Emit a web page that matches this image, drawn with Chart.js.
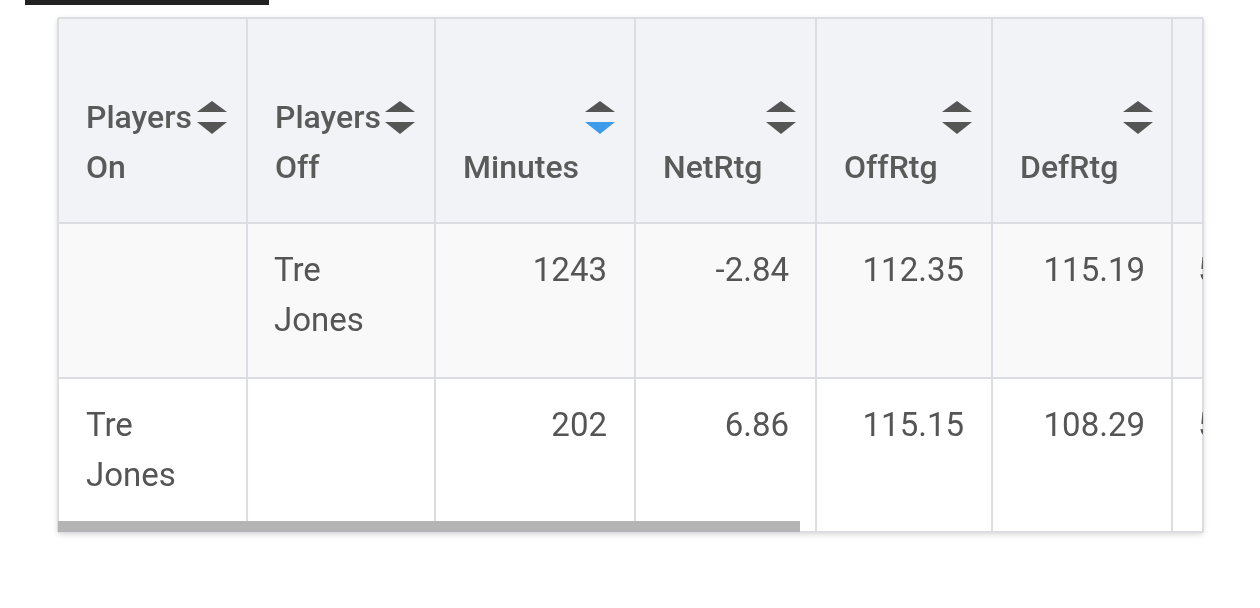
<!DOCTYPE html>
<html><head><meta charset="utf-8">
<script src="https://cdn.jsdelivr.net/npm/chart.js@4/dist/chart.umd.min.js"></script>
<style>html,body{margin:0;padding:0;background:#fff;}#w{width:1260px;height:608px;}</style>
</head><body><div id="w"><canvas id="c"></canvas></div>
<script>
const headers = [["Players","On"],["Players","Off"],["","Minutes"],["","NetRtg"],["","OffRtg"],["","DefRtg"],["",""]];
const playersOn = ["", "Tre\nJones"];
const playersOff = ["Tre\nJones", ""];
const minutes = [1243, 202];
const netRtg = ["-2.84", "6.86"];
const offRtg = ["112.35", "115.15"];
const defRtg = ["115.19", "108.29"];
const lastCol = ["5", "5"];

const colEdges = [58,247,435,635,816,992,1172,1203];
const rowEdges = [18,223,378,532];
const rowBg = ["#f2f3f7","#f9f9f9","#ffffff"];

function tri(ctx,x,y,up,color){ctx.fillStyle=color;ctx.beginPath();
 if(up){ctx.moveTo(x-15,y+11);ctx.lineTo(x+15,y+11);ctx.lineTo(x,y);}
 else{ctx.moveTo(x-15,y);ctx.lineTo(x+15,y);ctx.lineTo(x,y+12);}ctx.fill();}

const tablePlugin={id:'tbl',afterDraw(chart){
 const ctx=chart.ctx,X=v=>chart.scales.x.getPixelForValue(v),Y=v=>chart.scales.y.getPixelForValue(v);
 ctx.save();
 ctx.fillStyle="#222";ctx.fillRect(X(25),Y(0),X(269)-X(25),5);
 ctx.shadowColor="rgba(0,0,0,0.18)";ctx.shadowBlur=6;ctx.shadowOffsetY=2;
 ctx.fillStyle="#fff";ctx.fillRect(X(58),Y(18),X(1203)-X(58),Y(532)-Y(18));
 ctx.shadowColor="transparent";
 for(let r=0;r<3;r++){ctx.fillStyle=rowBg[r];ctx.fillRect(X(58),Y(rowEdges[r]),X(1203)-X(58),Y(rowEdges[r+1])-Y(rowEdges[r]));}
 ctx.strokeStyle="#dcdde2";ctx.lineWidth=2;
 colEdges.forEach(c=>{ctx.beginPath();ctx.moveTo(X(c),Y(18));ctx.lineTo(X(c),Y(532));ctx.stroke();});
 rowEdges.forEach(r=>{ctx.beginPath();ctx.moveTo(X(58),Y(r));ctx.lineTo(X(1203),Y(r));ctx.stroke();});
 ctx.fillStyle="#b4b4b4";ctx.fillRect(X(58),Y(521),X(800)-X(58),11);
 ctx.textBaseline="middle";
 const iconX=[212,400,600,781,957,1138];
 headers.forEach((h,i)=>{if(i>5)return;const x=colEdges[i]+28;
  ctx.textAlign="left";ctx.font="500 32px Roboto";ctx.fillStyle="#5a5a5a";
  if(h[0])ctx.fillText(h[0],X(x),Y(120));
  ctx.fillText(h[1],X(x),Y(170));
  tri(ctx,X(iconX[i]),Y(101),true,"#555");
  tri(ctx,X(iconX[i]),Y(122),false,i===2?"#3d9be9":"#555");
 });
 ctx.font="33px Roboto";ctx.fillStyle="#555";
 const rowY=[273,428];
 for(let r=0;r<2;r++){const y=rowY[r];
  ctx.textAlign="left";
  playersOn[r].split("\n").forEach((t,k)=>t&&ctx.fillText(t,X(86),Y(y+k*50)));
  playersOff[r].split("\n").forEach((t,k)=>t&&ctx.fillText(t,X(274),Y(y+k*50)));
  ctx.textAlign="right";
  ctx.fillText(String(minutes[r]),X(607),Y(y));
  ctx.fillText(netRtg[r],X(789),Y(y));
  ctx.fillText(offRtg[r],X(964),Y(y));
  ctx.fillText(defRtg[r],X(1145),Y(y));
  ctx.save();ctx.beginPath();ctx.rect(X(1172),Y(18),X(1203)-X(1172),Y(532)-Y(18));ctx.clip();
  ctx.textAlign="left";ctx.fillText(lastCol[r],X(1198),Y(y));ctx.restore();
 }
 ctx.restore();
}};

new Chart(document.getElementById('c'),{type:'scatter',
 data:{datasets:[{data:[],pointRadius:0}]},
 options:{responsive:true,maintainAspectRatio:false,animation:false,
  layout:{padding:0},plugins:{legend:{display:false},tooltip:{enabled:false}},
  scales:{x:{type:'linear',min:0,max:1260,display:false},y:{type:'linear',min:0,max:608,reverse:true,display:false}}},
 plugins:[tablePlugin]});
</script></body></html>
